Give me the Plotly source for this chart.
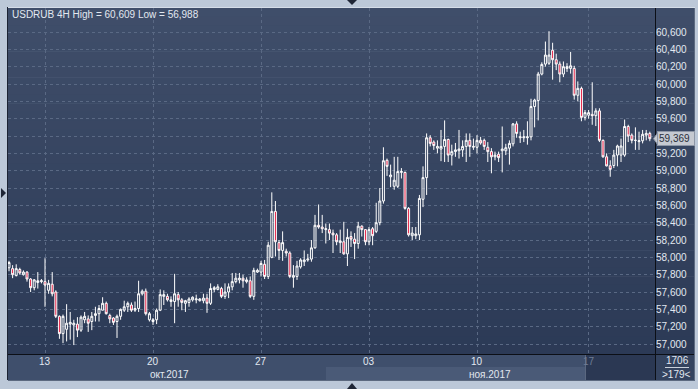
import plotly.graph_objects as go

# ---------------- data (USDRUB 4H candles) ----------------
opens = [57.88, 57.87, 57.79, 57.86, 57.80, 57.83, 57.75, 57.65, 57.71, 57.72,
         57.72, 57.62, 57.69, 57.60, 57.32, 57.12, 57.17, 57.23, 57.22, 57.23,
         57.16, 57.28, 57.29, 57.26, 57.33, 57.35, 57.39, 57.47, 57.33, 57.30,
         57.26, 57.32, 57.39, 57.43, 57.45, 57.39, 57.41, 57.58, 57.61, 57.28,
         57.26, 57.28, 57.39, 57.55, 57.55, 57.49, 57.49, 57.57, 57.51, 57.47,
         57.48, 57.51, 57.51, 57.50, 57.50, 57.53, 57.47, 57.63, 57.63, 57.64,
         57.55, 57.60, 57.66, 57.72, 57.74, 57.76, 57.72, 57.73, 57.55, 57.83,
         57.83, 57.92, 57.78, 58.00, 58.53, 58.17, 58.08, 58.07, 58.05, 57.77,
         57.78, 57.89, 57.95, 57.97, 57.98, 58.11, 58.37, 58.35, 58.32, 58.32,
         58.28, 58.26, 58.17, 58.18, 58.04, 58.24, 58.21, 58.16, 58.36, 58.32,
         58.18, 58.33, 58.30, 58.40, 58.65, 59.12, 58.93, 58.82, 58.82, 58.98,
         58.98, 58.565, 58.25, 58.25, 58.26, 58.67, 58.92, 59.38, 59.33, 59.26,
         59.25, 59.28, 59.36, 59.18, 59.22, 59.23, 59.24, 59.28, 59.35, 59.27,
         59.27, 59.35, 59.35, 59.27, 59.22, 59.16, 59.19, 59.23, 59.23, 59.26,
         59.31, 59.54, 59.38, 59.38, 59.38, 59.39, 59.74, 59.81, 60.115, 60.23,
         60.24, 60.39, 60.28, 60.23, 60.115, 60.18, 60.18, 60.18, 59.87, 59.95,
         59.615, 59.64, 59.65, 59.635, 59.69, 59.35, 59.16, 59.057, 59.06, 59.18,
         59.18, 59.18, 59.51, 59.41, 59.35, 59.335, 59.345, 59.41, 59.43]

highs = [57.96, 57.91, 57.92, 57.88, 57.85, 57.84, 57.76, 57.75, 57.83, 57.75,
         57.99, 57.74, 57.83, 57.62, 57.33, 57.34, 57.46, 57.37, 57.28, 57.31,
         57.33, 57.37, 57.33, 57.37, 57.43, 57.45, 57.54, 57.49, 57.35, 57.31,
         57.34, 57.41, 57.50, 57.49, 57.48, 57.49, 57.73, 57.63, 57.64, 57.37,
         57.30, 57.41, 57.63, 57.62, 57.58, 57.55, 57.81, 57.60, 57.53, 57.51,
         57.54, 57.55, 57.57, 57.53, 57.58, 57.58, 57.70, 57.67, 57.69, 57.66,
         57.70, 57.70, 57.82, 57.82, 57.82, 57.80, 57.77, 57.78, 57.88, 57.87,
         57.96, 57.97, 58.18, 58.75, 58.65, 58.20, 58.30, 58.10, 58.07, 57.91,
         57.96, 57.99, 58.08, 58.04, 58.20, 58.49, 58.61, 58.49, 58.39, 58.39,
         58.32, 58.28, 58.32, 58.41, 58.33, 58.30, 58.28, 58.41, 58.37, 58.32,
         58.35, 58.35, 58.63, 58.80, 59.27, 59.14, 59.07, 59.16, 59.16, 59.03,
         58.99, 58.58, 58.35, 58.35, 58.72, 59.05, 59.43, 59.41, 59.35, 59.35,
         59.47, 59.58, 59.37, 59.30, 59.32, 59.47, 59.35, 59.43, 59.43, 59.37,
         59.41, 59.39, 59.37, 59.33, 59.26, 59.22, 59.22, 59.51, 59.31, 59.35,
         59.55, 59.57, 59.45, 59.47, 59.57, 59.83, 59.83, 60.14, 60.25, 60.49,
         60.609, 60.476, 60.35, 60.26, 60.26, 60.24, 60.37, 60.21, 60.03, 59.97,
         59.70, 59.70, 60.02, 59.72, 59.72, 59.36, 59.20, 59.12, 59.24, 59.30,
         59.37, 59.59, 59.53, 59.43, 59.50, 59.45, 59.47, 59.47, 59.45]

lows = [57.84, 57.76, 57.78, 57.80, 57.79, 57.72, 57.60, 57.62, 57.64, 57.70,
        57.43, 57.58, 57.55, 57.30, 57.06, 57.01, 57.03, 57.05, 56.988, 57.08,
        57.14, 57.24, 57.14, 57.16, 57.26, 57.26, 57.39, 57.34, 57.24, 57.22,
        57.07, 57.28, 57.37, 57.37, 57.37, 57.37, 57.37, 57.56, 57.33, 57.26,
        57.22, 57.23, 57.38, 57.45, 57.49, 57.43, 57.24, 57.43, 57.39, 57.37,
        57.43, 57.49, 57.47, 57.49, 57.47, 57.36, 57.45, 57.60, 57.62, 57.53,
        57.52, 57.53, 57.62, 57.70, 57.70, 57.65, 57.70, 57.53, 57.51, 57.82,
        57.78, 57.75, 57.75, 57.99, 58.01, 57.97, 57.96, 58.01, 57.76, 57.65,
        57.74, 57.87, 57.90, 57.95, 57.95, 58.10, 58.33, 58.28, 58.16, 58.20,
        58.05, 58.14, 58.05, 58.03, 57.90, 58.12, 57.98, 58.10, 58.24, 58.14,
        58.14, 58.14, 58.28, 58.37, 58.62, 58.94, 58.81, 58.78, 58.80, 58.91,
        58.55, 58.24, 58.20, 58.21, 58.20, 58.58, 58.72, 59.28, 59.24, 59.20,
        59.11, 59.10, 59.10, 59.06, 59.16, 59.14, 59.16, 59.10, 59.16, 59.24,
        59.20, 59.30, 59.24, 59.10, 58.97, 59.12, 59.10, 58.98, 59.18, 59.07,
        59.28, 59.38, 59.32, 59.33, 59.30, 59.35, 59.50, 59.58, 60.10, 60.20,
        60.22, 60.05, 60.16, 60.02, 60.08, 60.14, 60.12, 59.82, 59.80, 59.57,
        59.58, 59.60, 59.53, 59.515, 59.33, 59.15, 59.05, 58.93, 59.03, 59.05,
        59.10, 59.16, 59.33, 59.315, 59.24, 59.24, 59.315, 59.35, 59.34]

closes = [57.94, 57.80, 57.87, 57.82, 57.83, 57.75, 57.65, 57.74, 57.73, 57.73,
          57.68, 57.70, 57.58, 57.32, 57.12, 57.32, 57.24, 57.25, 57.24, 57.16,
          57.31, 57.32, 57.24, 57.32, 57.35, 57.41, 57.47, 57.35, 57.29, 57.25,
          57.32, 57.40, 57.43, 57.47, 57.39, 57.41, 57.58, 57.61, 57.35, 57.35,
          57.28, 57.39, 57.57, 57.57, 57.51, 57.51, 57.58, 57.51, 57.48, 57.50,
          57.52, 57.54, 57.52, 57.52, 57.53, 57.47, 57.64, 57.65, 57.66, 57.55,
          57.60, 57.66, 57.72, 57.76, 57.76, 57.73, 57.74, 57.55, 57.85, 57.85,
          57.93, 57.78, 58.14, 58.53, 58.18, 58.08, 58.17, 58.05, 57.78, 57.79,
          57.90, 57.97, 57.97, 57.98, 58.11, 58.37, 58.35, 58.33, 58.33, 58.28,
          58.26, 58.18, 58.19, 58.04, 58.23, 58.21, 58.16, 58.36, 58.32, 58.18,
          58.32, 58.25, 58.40, 58.65, 59.115, 59.05, 58.95, 58.89, 58.99, 58.99,
          58.565, 58.26, 58.28, 58.27, 58.68, 58.92, 59.38, 59.315, 59.29, 59.28,
          59.28, 59.36, 59.18, 59.22, 59.24, 59.25, 59.28, 59.35, 59.28, 59.28,
          59.35, 59.32, 59.28, 59.22, 59.16, 59.18, 59.15, 59.25, 59.265, 59.315,
          59.54, 59.43, 59.39, 59.39, 59.39, 59.74, 59.815, 60.115, 60.226, 60.334,
          60.334, 60.28, 60.23, 60.115, 60.20, 60.20, 60.21, 59.87, 59.95, 59.615,
          59.67, 59.67, 59.635, 59.69, 59.35, 59.16, 59.055, 59.015, 59.18, 59.285,
          59.285, 59.51, 59.40, 59.35, 59.35, 59.345, 59.42, 59.43, 59.369]

bar_index = list(range(len(closes)))

price_ticks = [57.0, 57.2, 57.4, 57.6, 57.8, 58.0, 58.2, 58.4, 58.6, 58.8,
               59.0, 59.2, 59.4, 59.6, 59.8, 60.0, 60.2, 60.4, 60.6]
# the 59,400 label is hidden behind the last-price marker in the reference
price_tick_text = ["57,000", "57,200", "57,400", "57,600", "57,800", "58,000",
                   "58,200", "58,400", "58,600", "58,800", "59,000", "59,200",
                   "", "59,600", "59,800", "60,000", "60,200", "60,400", "60,600"]
week_tick_index = [10, 40, 70, 100, 130, 161]
week_tick_labels = ["13", "20", "27", "03", "10", "17"]
month_label_index = [44.5, 133.7]
month_labels = ["окт.2017", "ноя.2017"]
title_text = "USDRUB 4H High = 60,609 Low = 56,988"
last_price = 59.369
last_price_text = "59,369"
footer_top = "1706"
footer_bottom = ">179<"

# ---------------- layout geometry (pixels of the 698x389 page) ----------------
W, H = 698, 389
PL, PR, PT, PB = 8, 655, 8, 354       # plot area box
FRAME = "#bcc8d8"
FONT = "Liberation Sans"
LABEL = "#e2e8f0"


def px(xp):
    return (xp - PL) / (PR - PL)


def py(yp):
    return (PB - yp) / (PB - PT)


def lerp_color(c0, c1, t):
    a = [int(c0[i:i + 2], 16) for i in (1, 3, 5)]
    b = [int(c1[i:i + 2], 16) for i in (1, 3, 5)]
    return "#" + "".join(f"{round(a[k] + (b[k] - a[k]) * t):02x}" for k in range(3))


shapes = []
# gradient background behind plot + price axis
n_bands = 40
top_y, bot_y = PT, PB
for k in range(n_bands):
    y0 = top_y + (bot_y - top_y) * k / n_bands
    y1 = top_y + (bot_y - top_y) * (k + 1) / n_bands + 0.6
    col = lerp_color("#3f4e6a", "#2c3a56", k / (n_bands - 1))
    shapes.append(dict(type="rect", xref="paper", yref="paper", layer="below",
                       x0=px(PL), x1=px(695), y0=py(y1), y1=py(y0),
                       fillcolor=col, line=dict(width=0)))
# bottom date strip
shapes.append(dict(type="rect", xref="paper", yref="paper", layer="below",
                   x0=px(PL), x1=px(695), y0=py(380), y1=py(PB),
                   fillcolor="#3f4f6c", line=dict(width=0)))
# lighter month band (November)
shapes.append(dict(type="rect", xref="paper", yref="paper", layer="below",
                   x0=px(326), x1=px(585), y0=py(380), y1=py(367),
                   fillcolor="#4a5a77", line=dict(width=0)))
# dark current-week box
shapes.append(dict(type="rect", xref="paper", yref="paper", layer="below",
                   x0=px(585), x1=px(PR), y0=py(380), y1=py(PB),
                   fillcolor="#2b3853", line=dict(width=0)))
shapes.append(dict(type="line", xref="paper", yref="paper", layer="below",
                   x0=px(585.5), x1=px(585.5), y0=py(380), y1=py(PB),
                   line=dict(color="#5b6880", width=1)))
# bottom-right counter box
shapes.append(dict(type="rect", xref="paper", yref="paper", layer="below",
                   x0=px(PR), x1=px(695), y0=py(380), y1=py(PB),
                   fillcolor="#34435f", line=dict(width=0)))
# separator lines
shapes.append(dict(type="line", xref="paper", yref="paper", layer="above",
                   x0=px(PR + 0.5), x1=px(PR + 0.5), y0=py(380), y1=py(PT),
                   line=dict(color="#0c0f16", width=1)))
shapes.append(dict(type="line", xref="paper", yref="paper", layer="above",
                   x0=px(PL), x1=px(695), y0=py(PB + 0.5), y1=py(PB + 0.5),
                   line=dict(color="#0c0f16", width=1)))
shapes.append(dict(type="line", xref="paper", yref="paper", layer="above",
                   x0=px(PL - 0.5), x1=px(PL - 0.5), y0=py(380), y1=py(PT - 1),
                   line=dict(color="#1c2333", width=1)))
shapes.append(dict(type="line", xref="paper", yref="paper", layer="above",
                   x0=px(694.5), x1=px(694.5), y0=py(380), y1=py(PT - 1),
                   line=dict(color="#5d6a80", width=1)))
shapes.append(dict(type="line", xref="paper", yref="paper", layer="above",
                   x0=px(PL), x1=px(695), y0=py(380.5), y1=py(380.5),
                   line=dict(color="#5d6a80", width=1)))
shapes.append(dict(type="line", xref="paper", yref="paper", layer="above",
                   x0=px(PL), x1=px(695), y0=py(PT - 0.5), y1=py(PT - 0.5),
                   line=dict(color="#d5dde8", width=1)))
# line between footer counters
shapes.append(dict(type="line", xref="paper", yref="paper", layer="above",
                   x0=px(665), x1=px(689), y0=py(367.5), y1=py(367.5),
                   line=dict(color="#c9d1dc", width=1)))


def tri(points, color="#1f2636"):
    path = "M " + " L ".join(f"{px(a)},{py(b)}" for a, b in points) + " Z"
    return dict(type="path", xref="paper", yref="paper", layer="above", path=path,
                fillcolor=color, line=dict(width=0))


shapes.append(tri([(347, 0), (357, 0), (352, 5)]))
shapes.append(tri([(347, 389), (357, 389), (352, 383)]))
shapes.append(tri([(1, 188), (1, 198), (6, 193)]))

# last-price marker: small pointer on the left of the label box
shapes.append(dict(type="path", xref="paper", yref="y", layer="above",
                   path=f"M {px(653.5)},{last_price} L {px(657.5)},{last_price + 0.065} "
                        f"L {px(657.5)},{last_price - 0.065} Z",
                   fillcolor="#c5c9d1", line=dict(color="#8d96a6", width=1)))

annotations = [
    dict(text=title_text, xref="paper", yref="paper", x=px(10), y=py(14),
         xanchor="left", yanchor="middle", showarrow=False,
         font=dict(family=FONT, size=10, color=LABEL)),
]
for idx, lab in zip(week_tick_index, week_tick_labels):
    annotations.append(dict(text=lab, xref="x", yref="paper", x=idx, y=py(361.5),
                            xanchor="center", yanchor="middle", showarrow=False,
                            font=dict(family=FONT, size=10,
                                      color="#6f7d95" if lab == "17" else LABEL)))
for idx, lab in zip(month_label_index, month_labels):
    annotations.append(dict(text=lab, xref="x", yref="paper", x=idx, y=py(374),
                            xanchor="center", yanchor="middle", showarrow=False,
                            font=dict(family=FONT, size=10, color=LABEL)))
annotations.append(dict(text=last_price_text, xref="paper", yref="y",
                        x=px(657), y=last_price, xanchor="left", yanchor="middle",
                        showarrow=False, bgcolor="#c5c9d1", bordercolor="#8d96a6",
                        borderwidth=1, borderpad=1, width=34, align="left",
                        font=dict(family=FONT, size=10, color="#2a2f3a")))
annotations.append(dict(text=footer_top, xref="paper", yref="paper", x=px(677),
                        y=py(360.5), xanchor="center", yanchor="middle", showarrow=False,
                        font=dict(family=FONT, size=10, color=LABEL)))
annotations.append(dict(text=footer_bottom, xref="paper", yref="paper", x=px(676),
                        y=py(374), xanchor="center", yanchor="middle", showarrow=False,
                        font=dict(family=FONT, size=10, color=LABEL)))

fig = go.Figure(go.Candlestick(
    x=bar_index, open=opens, high=highs, low=lows, close=closes,
    increasing=dict(line=dict(color="#ffffff", width=1), fillcolor="rgba(0,0,0,0)"),
    decreasing=dict(line=dict(color="#ffffff", width=1), fillcolor="#e3163c"),
    whiskerwidth=0, hoverinfo="skip", showlegend=False,
))

fig.update_layout(
    width=W, height=H,
    margin=dict(l=PL, r=W - PR, t=PT, b=H - PB, pad=0),
    paper_bgcolor=FRAME, plot_bgcolor="rgba(0,0,0,0)",
    separators=", ",
    boxgap=0.22,
    shapes=shapes, annotations=annotations,
    xaxis=dict(range=[-0.28, 179.44], tickvals=week_tick_index, showticklabels=False,
               showgrid=True, gridcolor="#5a6984", griddash="3px,3px", gridwidth=1,
               zeroline=False, showline=False, ticks="", rangeslider=dict(visible=False),
               fixedrange=True),
    yaxis=dict(range=[56.885, 60.877], side="right", tickvals=price_ticks,
               ticktext=price_tick_text, showgrid=True, gridcolor="#5a6984",
               griddash="3px,3px", gridwidth=1, zeroline=False, showline=False, ticks="",
               tickfont=dict(family=FONT, size=10, color=LABEL), fixedrange=True),
    font=dict(family=FONT),
)

fig.write_html("out.html")
